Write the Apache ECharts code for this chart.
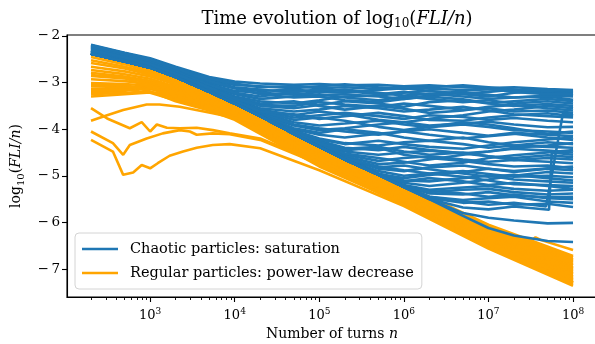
<!DOCTYPE html>
<html>
<head>
<meta charset="utf-8">
<title>FLI evolution</title>
<script src="https://cdn.jsdelivr.net/npm/echarts@6.0.0/dist/echarts.min.js"></script>
<style>
  html, body { margin: 0; padding: 0; background: #fff; }
  #chart { width: 595px; height: 344px; }
</style>
</head>
<body>
<div id="chart"></div>
<script>
// ---- data: log10(FLI/n) ----

// regular particles (orange), main band
const regularTurns = [200, 500, 1e3, 2e3, 5e3, 1e4, 1e5, 1e6, 1e7, 1e8]
const regularRuns = [
  [-2.38, -2.55, -2.72, -2.92, -3.17, -3.40, -4.40, -5.20, -6.05, -6.72],
  [-2.45, -2.61, -2.76, -2.95, -3.20, -3.42, -4.42, -5.22, -6.08, -6.75],
  [-2.52, -2.66, -2.79, -2.98, -3.22, -3.45, -4.45, -5.25, -6.10, -6.79],
  [-2.58, -2.70, -2.83, -3.01, -3.25, -3.47, -4.47, -5.27, -6.13, -6.82],
  [-2.66, -2.76, -2.87, -3.04, -3.27, -3.50, -4.50, -5.30, -6.16, -6.85],
  [-3.21, -3.18, -3.05, -3.06, -3.30, -3.52, -4.52, -5.32, -6.18, -6.89],
  [-2.73, -2.82, -2.92, -3.09, -3.33, -3.54, -4.54, -5.34, -6.21, -6.92],
  [-2.79, -2.87, -2.96, -3.12, -3.35, -3.57, -4.57, -5.37, -6.24, -6.96],
  [-2.86, -2.91, -3.00, -3.15, -3.38, -3.59, -4.59, -5.39, -6.26, -6.99],
  [-2.93, -2.97, -3.03, -3.18, -3.40, -3.62, -4.62, -5.42, -6.29, -7.02],
  [-3.01, -3.03, -3.07, -3.21, -3.43, -3.64, -4.64, -5.44, -6.31, -7.06],
  [-3.07, -3.08, -3.11, -3.24, -3.45, -3.66, -4.66, -5.46, -6.34, -7.09],
  [-3.13, -3.12, -3.14, -3.27, -3.48, -3.69, -4.69, -5.49, -6.37, -7.12],
  [-3.30, -3.25, -3.21, -3.29, -3.51, -3.71, -4.71, -5.51, -6.39, -7.16],
  [-3.25, -3.22, -3.20, -3.32, -3.53, -3.74, -4.74, -5.54, -6.42, -7.19],
  [-2.84, -2.90, -3.11, -3.35, -3.56, -3.76, -4.76, -5.56, -6.45, -7.22],
  [-3.17, -3.15, -3.22, -3.38, -3.58, -3.78, -4.78, -5.58, -6.47, -7.25],
  [-3.04, -3.05, -3.19, -3.40, -3.60, -3.80, -4.80, -5.60, -6.49, -7.28]
]

// regular run that stays on top at the end (small bump near 3e7)
const regularTopTurns = [200, 500, 1e3, 2e3, 5e3, 1e4, 1e5, 1e6, 1e7, 2e7, 3.2e7, 3.6e7, 4.2e7, 1e8]
const regularTopRun = [-2.40, -2.57, -2.74, -2.93, -3.18, -3.41, -4.41, -5.21, -6.08, -6.28, -6.40, -6.32, -6.38, -6.59]

// regular runs starting low on the left
const regularLowTurns1 = [200, 310, 480, 910, 1290, 2240, 5500, 2e4, 1e5, 1e6, 1e7, 1e8]
const regularLowRun1 = [-3.82, -3.70, -3.59, -3.47, -3.47, -3.52, -3.66, -3.87, -4.65, -5.60, -6.50, -7.28]
const regularLowTurns2 = [200, 310, 575, 795, 1000, 1200, 1580, 2240, 3550, 5500, 8700, 2e4, 1e5, 1e6, 1e7, 1e8]
const regularLowRun2 = [-3.55, -3.77, -3.98, -3.85, -4.05, -3.90, -3.97, -3.98, -3.97, -4.02, -4.09, -4.20, -4.72, -5.62, -6.52, -7.30]
const regularLowTurns3 = [200, 363, 480, 575, 910, 1410, 2240, 2950, 3550, 5500, 8700, 2e4, 1e5, 1e6, 1e7, 1e8]
const regularLowRun3 = [-4.05, -4.30, -4.55, -4.34, -4.20, -4.09, -4.02, -4.05, -4.12, -4.09, -4.11, -4.23, -4.75, -5.63, -6.54, -7.32]
const regularLowTurns4 = [200, 363, 480, 630, 795, 1000, 1230, 1700, 2450, 3550, 5500, 8700, 2e4, 1e5, 1e6, 1e7, 1e8]
const regularLowRun4 = [-4.23, -4.48, -4.98, -4.93, -4.77, -4.84, -4.73, -4.57, -4.48, -4.40, -4.34, -4.32, -4.41, -4.88, -5.65, -6.56, -7.36]

// chaotic particles (blue)
const chaoticTurns = [200, 500, 1e3, 2e3, 5e3, 1e4, 2e4, 5e4, 1e5, 2e5, 5e5, 1e6, 2e6, 5e6, 1e7, 2e7, 5e7, 1e8]
const chaoticRuns = [
  [-2.19, -2.36, -2.48, -2.66, -2.88, -2.98, -3.02, -3.05, -3.03, -3.06, -3.05, -3.08, -3.06, -3.10, -3.12, -3.10, -3.14, -3.16],
  [-2.22, -2.38, -2.52, -2.70, -2.95, -3.05, -3.08, -3.12, -3.08, -3.04, -3.10, -3.14, -3.10, -3.06, -3.10, -3.15, -3.20, -3.20],
  [-2.24, -2.40, -2.54, -2.73, -3.00, -3.12, -3.18, -3.15, -3.20, -3.22, -3.16, -3.12, -3.18, -3.24, -3.20, -3.15, -3.22, -3.27],
  [-2.25, -2.42, -2.55, -2.75, -3.03, -3.18, -3.22, -3.26, -3.20, -3.15, -3.22, -3.28, -3.24, -3.30, -3.35, -3.32, -3.30, -3.37],
  [-2.27, -2.43, -2.57, -2.77, -3.06, -3.25, -3.35, -3.30, -3.25, -3.32, -3.38, -3.30, -3.35, -3.42, -3.38, -3.45, -3.40, -3.45],
  [-2.28, -2.44, -2.58, -2.79, -3.09, -3.30, -3.40, -3.45, -3.38, -3.30, -3.28, -3.22, -3.18, -3.25, -3.30, -3.22, -3.18, -3.22],
  [-2.30, -2.46, -2.60, -2.80, -3.12, -3.33, -3.48, -3.50, -3.42, -3.47, -3.52, -3.45, -3.50, -3.58, -3.55, -3.62, -3.60, -3.65],
  [-2.31, -2.47, -2.61, -2.82, -3.13, -3.36, -3.55, -3.62, -3.58, -3.50, -3.55, -3.62, -3.58, -3.52, -3.60, -3.68, -3.72, -3.75],
  [-2.32, -2.48, -2.62, -2.83, -3.14, -3.38, -3.60, -3.75, -3.70, -3.65, -3.72, -3.78, -3.70, -3.74, -3.80, -3.76, -3.82, -3.85],
  [-2.33, -2.49, -2.63, -2.84, -3.15, -3.40, -3.64, -3.85, -3.92, -3.88, -3.82, -3.90, -3.96, -3.90, -3.95, -4.02, -4.05, -4.08],
  [-2.34, -2.50, -2.64, -2.85, -3.16, -3.41, -3.67, -3.92, -4.02, -3.98, -3.90, -3.85, -3.78, -3.70, -3.62, -3.58, -3.50, -3.55],
  [-2.35, -2.51, -2.65, -2.85, -3.17, -3.42, -3.68, -4.00, -4.12, -4.18, -4.10, -4.05, -4.12, -4.20, -4.15, -4.10, -4.18, -4.23],
  [-2.36, -2.52, -2.66, -2.86, -3.18, -3.43, -3.69, -4.03, -4.20, -4.30, -4.35, -4.28, -4.25, -4.32, -4.40, -4.35, -4.38, -4.40],
  [-2.36, -2.53, -2.66, -2.87, -3.18, -3.43, -3.70, -4.04, -4.25, -4.40, -4.45, -4.38, -4.45, -4.52, -4.48, -4.42, -4.46, -4.50],
  [-2.37, -2.53, -2.67, -2.87, -3.19, -3.44, -3.70, -4.05, -4.28, -4.48, -4.55, -4.50, -4.46, -4.52, -4.58, -4.62, -4.56, -4.60],
  [-2.37, -2.54, -2.67, -2.87, -3.19, -3.44, -3.71, -4.06, -4.30, -4.55, -4.68, -4.62, -4.58, -4.65, -4.70, -4.66, -4.70, -4.73],
  [-2.38, -2.54, -2.67, -2.88, -3.19, -3.44, -3.71, -4.06, -4.31, -4.58, -4.75, -4.72, -4.65, -4.55, -4.48, -4.40, -4.35, -4.30],
  [-2.38, -2.55, -2.68, -2.88, -3.20, -3.45, -3.72, -4.10, -4.36, -4.60, -4.85, -4.90, -4.82, -4.78, -4.85, -4.92, -4.85, -4.88],
  [-2.36, -2.53, -2.67, -2.87, -3.19, -3.45, -3.72, -4.10, -4.38, -4.63, -4.90, -5.00, -4.95, -4.90, -4.96, -5.02, -5.00, -5.03],
  [-2.37, -2.54, -2.68, -2.88, -3.20, -3.45, -3.72, -4.10, -4.38, -4.65, -4.95, -5.10, -5.12, -5.05, -5.00, -5.08, -5.12, -5.15],
  [-2.38, -2.55, -2.68, -2.88, -3.20, -3.45, -3.72, -4.10, -4.38, -4.65, -4.97, -5.15, -5.22, -5.15, -5.08, -5.00, -4.92, -4.95],
  [-2.37, -2.54, -2.68, -2.88, -3.20, -3.45, -3.72, -4.10, -4.38, -4.65, -4.97, -5.20, -5.30, -5.25, -5.22, -5.28, -5.32, -5.30],
  [-2.38, -2.55, -2.68, -2.88, -3.20, -3.45, -3.72, -4.10, -4.38, -4.65, -4.98, -5.22, -5.38, -5.40, -5.35, -5.42, -5.46, -5.45],
  [-2.38, -2.55, -2.68, -2.88, -3.20, -3.45, -3.72, -4.10, -4.38, -4.65, -4.98, -5.23, -5.45, -5.52, -5.48, -5.45, -5.55, -5.58],
  [-2.38, -2.55, -2.68, -2.88, -3.20, -3.45, -3.72, -4.10, -4.38, -4.65, -4.98, -5.24, -5.48, -5.58, -5.55, -5.62, -5.60, -5.67],
  [-2.38, -2.55, -2.68, -2.88, -3.20, -3.45, -3.72, -4.10, -4.38, -4.65, -4.98, -5.24, -5.50, -5.80, -5.90, -5.96, -6.02, -6.01],
  [-2.38, -2.55, -2.68, -2.88, -3.20, -3.45, -3.72, -4.10, -4.38, -4.65, -4.98, -5.24, -5.50, -5.86, -6.12, -6.28, -6.40, -6.42],
  [-2.20, -2.37, -2.50, -2.68, -2.92, -3.02, -3.10, -3.08, -3.12, -3.10, -3.14, -3.10, -3.13, -3.16, -3.14, -3.18, -3.15, -3.18],
  [-2.23, -2.39, -2.53, -2.72, -2.98, -3.10, -3.15, -3.22, -3.28, -3.25, -3.30, -3.35, -3.28, -3.22, -3.26, -3.32, -3.28, -3.30],
  [-2.31, -2.47, -2.61, -2.82, -3.13, -3.37, -3.58, -3.70, -3.62, -3.68, -3.80, -3.85, -3.92, -3.88, -3.84, -3.90, -3.96, -3.95],
  [-2.37, -2.53, -2.67, -2.87, -3.19, -3.44, -3.70, -4.05, -4.27, -4.42, -4.38, -4.48, -4.55, -4.50, -4.58, -4.66, -4.62, -4.65],
  [-2.38, -2.54, -2.68, -2.88, -3.20, -3.45, -3.72, -4.10, -4.36, -4.63, -4.82, -4.78, -4.86, -4.95, -5.02, -4.98, -5.05, -5.10],
  [-2.38, -2.55, -2.68, -2.88, -3.20, -3.45, -3.72, -4.10, -4.38, -4.65, -4.96, -5.05, -4.98, -4.92, -4.85, -4.90, -4.84, -4.80],
  [-2.38, -2.55, -2.68, -2.88, -3.20, -3.45, -3.72, -4.10, -4.38, -4.65, -4.98, -5.24, -5.32, -5.38, -5.45, -5.40, -5.48, -5.50],
  [-2.34, -2.50, -2.64, -2.85, -3.16, -3.41, -3.66, -3.90, -3.98, -4.05, -4.12, -4.05, -4.00, -4.08, -4.14, -4.08, -4.12, -4.15],
  [-2.21, -2.37, -2.51, -2.69, -2.96, -3.12, -3.25, -3.32, -3.30, -3.38, -3.42, -3.35, -3.30, -3.36, -3.44, -3.40, -3.35, -3.40],
  [-2.26, -2.42, -2.56, -2.76, -3.05, -3.22, -3.30, -3.20, -3.15, -3.18, -3.25, -3.20, -3.26, -3.18, -3.14, -3.20, -3.25, -3.24],
  [-2.29, -2.45, -2.59, -2.80, -3.10, -3.32, -3.45, -3.40, -3.50, -3.58, -3.50, -3.56, -3.65, -3.60, -3.52, -3.48, -3.55, -3.60],
  [-2.32, -2.48, -2.62, -2.83, -3.14, -3.38, -3.62, -3.80, -3.75, -3.82, -3.95, -4.02, -3.95, -3.85, -3.90, -3.98, -4.10, -4.05],
  [-2.35, -2.51, -2.65, -2.86, -3.17, -3.42, -3.68, -3.98, -4.08, -4.00, -4.08, -4.18, -4.25, -4.18, -4.28, -4.35, -4.28, -4.32],
  [-2.36, -2.52, -2.66, -2.87, -3.18, -3.43, -3.70, -4.04, -4.22, -4.32, -4.25, -4.32, -4.38, -4.42, -4.35, -4.28, -4.22, -4.18],
  [-2.37, -2.54, -2.67, -2.88, -3.19, -3.44, -3.71, -4.07, -4.32, -4.52, -4.62, -4.70, -4.78, -4.72, -4.62, -4.56, -4.50, -4.45],
  [-2.38, -2.54, -2.68, -2.88, -3.20, -3.45, -3.72, -4.10, -4.37, -4.62, -4.80, -4.88, -4.95, -5.02, -5.10, -5.18, -5.20, -5.22],
  [-2.38, -2.55, -2.68, -2.88, -3.20, -3.45, -3.72, -4.10, -4.38, -4.65, -4.96, -5.12, -5.05, -5.12, -5.20, -5.15, -5.22, -5.28],
  [-2.38, -2.55, -2.68, -2.88, -3.20, -3.45, -3.72, -4.10, -4.38, -4.65, -4.98, -5.22, -5.35, -5.30, -5.28, -5.35, -5.40, -5.38],
  [-2.33, -2.49, -2.63, -2.84, -3.15, -3.39, -3.62, -3.68, -3.78, -3.72, -3.65, -3.72, -3.80, -3.82, -3.75, -3.70, -3.66, -3.72],
  [-2.30, -2.46, -2.60, -2.81, -3.11, -3.34, -3.50, -3.55, -3.48, -3.40, -3.45, -3.52, -3.42, -3.38, -3.45, -3.50, -3.46, -3.50],
  [-2.37, -2.53, -2.67, -2.87, -3.19, -3.44, -3.71, -4.06, -4.30, -4.45, -4.40, -4.55, -4.62, -4.68, -4.75, -4.80, -4.78, -4.84]
]

// chaotic runs that jump up late
const chaoticJumpTurns1 = [200, 500, 1e3, 2e3, 5e3, 1e4, 2e4, 5e4, 1e5, 2e5, 5e5, 1e6, 2e6, 5e6, 1e7, 2e7, 4.8e7, 7.6e7, 1e8]
const chaoticJumpRun1 = [-2.38, -2.55, -2.68, -2.88, -3.20, -3.45, -3.72, -4.10, -4.38, -4.65, -4.98, -5.24, -5.45, -5.55, -5.62, -5.58, -5.66, -3.66, -3.70]
const chaoticJumpTurns2 = [200, 500, 1e3, 2e3, 5e3, 1e4, 2e4, 5e4, 1e5, 2e5, 5e5, 1e6, 2e6, 5e6, 1e7, 2e7, 5.2e7, 5.6e7, 1e8]
const chaoticJumpRun2 = [-2.38, -2.55, -2.68, -2.88, -3.20, -3.45, -3.72, -4.10, -4.38, -4.65, -4.98, -5.24, -5.50, -5.68, -5.72, -5.66, -5.73, -4.50, -4.55]

// axis ticks
const xMajorTicks = [1e3, 1e4, 1e5, 1e6, 1e7, 1e8]
const yTicks = [-7, -6, -5, -4, -3, -2]

const chaoticName = 'Chaotic particles: saturation'
const regularName = 'Regular particles: power-law decrease'
const blue = '#1f77b4'
const orange = '#ffa500'
const serif = 'DejaVu Serif'

// minor ticks of a log axis: 2..9 in every decade
let xMinorTicks = []
for (let d = 2; d <= 7; d++) {
  for (let k = 2; k <= 9; k++) xMinorTicks.push(k * Math.pow(10, d))
}

function pairs(turns, run) {
  return turns.map((n, i) => [n, run[i]])
}

function runSeries(name, color, data) {
  return {
    type: 'line',
    name: name,
    data: data,
    showSymbol: false,
    symbol: 'none',
    silent: true,
    lineStyle: { color: color, width: 2.6 },
    itemStyle: { color: color }
  }
}

let series = []
// regular first, chaotic drawn on top
regularRuns.forEach(run => series.push(runSeries(regularName, orange, pairs(regularTurns, run))))
series.push(runSeries(regularName, orange, pairs(regularTopTurns, regularTopRun)))
series.push(runSeries(regularName, orange, pairs(regularLowTurns1, regularLowRun1)))
series.push(runSeries(regularName, orange, pairs(regularLowTurns2, regularLowRun2)))
series.push(runSeries(regularName, orange, pairs(regularLowTurns3, regularLowRun3)))
series.push(runSeries(regularName, orange, pairs(regularLowTurns4, regularLowRun4)))
chaoticRuns.forEach(run => series.push(runSeries(chaoticName, blue, pairs(chaoticTurns, run))))
series.push(runSeries(chaoticName, blue, pairs(chaoticJumpTurns1, chaoticJumpRun1)))
series.push(runSeries(chaoticName, blue, pairs(chaoticJumpTurns2, chaoticJumpRun2)))

const tickLine = { color: '#000', width: 1.1 }
const textRich = {
  t: { fontFamily: serif, fontSize: 14, color: '#000', lineHeight: 20 },
  i: { fontFamily: serif, fontSize: 14, color: '#000', lineHeight: 20, fontStyle: 'italic' },
  s: { fontFamily: serif, fontSize: 10, color: '#000', lineHeight: 10, verticalAlign: 'bottom' }
}

let myChart = echarts.init(document.getElementById('chart'), null, { renderer: 'canvas' })
let options = {
  animation: false,
  backgroundColor: '#fff',
  title: {
    text: '{t|Time evolution of log}{s|10}{t|(}{i|FLI/n}{t|)}',
    left: 332,
    textAlign: 'center',
    top: 3,
    textStyle: {
      fontWeight: 'normal',
      rich: {
        t: { fontFamily: serif, fontSize: 18, fontWeight: 'normal', color: '#000', lineHeight: 22 },
        i: { fontFamily: serif, fontSize: 18, fontWeight: 'normal', color: '#000', lineHeight: 22, fontStyle: 'italic' },
        s: { fontFamily: serif, fontSize: 12, fontWeight: 'normal', color: '#000', lineHeight: 11, verticalAlign: 'bottom' }
      }
    }
  },
  legend: {
    data: [chaoticName, regularName],
    orient: 'vertical',
    left: 75,
    top: 233,
    icon: 'rect',
    itemWidth: 36,
    itemHeight: 2.6,
    itemGap: 6,
    padding: [7, 8, 7, 7],
    backgroundColor: 'rgba(255,255,255,0.8)',
    borderColor: '#d4d4d4',
    borderWidth: 1,
    borderRadius: 4,
    selectedMode: false,
    textStyle: { fontFamily: serif, fontSize: 14.5, color: '#000', padding: [0, 0, 0, 7], lineHeight: 18 }
  },
  grid: {
    left: 67,
    right: -2,
    top: 35,
    bottom: 47,
    show: true,
    borderColor: '#000',
    borderWidth: 1.1,
    containLabel: false,
    outerBoundsMode: 'none'
  },
  xAxis: [
    {
      type: 'log',
      logBase: 10,
      min: 104,
      max: 1.92e8,
      axisLine: { show: true, onZero: false, lineStyle: tickLine },
      axisTick: { show: true, customValues: xMajorTicks, length: 5, lineStyle: tickLine },
      axisLabel: {
        customValues: xMajorTicks,
        margin: 10,
        formatter: v => '{b|10}{p|' + Math.round(Math.log10(v)) + '}',
        rich: {
          b: { fontFamily: serif, fontSize: 13, color: '#000', lineHeight: 17 },
          p: { fontFamily: serif, fontSize: 9, color: '#000', lineHeight: 8, verticalAlign: 'top' }
        }
      },
      splitLine: { show: false },
      name: '{t|Number of turns }{i|n}',
      nameLocation: 'middle',
      nameGap: 26,
      nameTextStyle: { rich: textRich }
    },
    {
      // minor ticks only
      type: 'log',
      logBase: 10,
      min: 104,
      max: 1.92e8,
      gridIndex: 0,
      position: 'bottom',
      axisLine: { show: false, onZero: false },
      axisTick: { show: true, customValues: xMinorTicks, length: 3, lineStyle: { color: '#000', width: 0.9 } },
      axisLabel: { show: false },
      splitLine: { show: false }
    }
  ],
  yAxis: {
    type: 'value',
    min: -7.6,
    max: -1.98,
    axisLine: { show: true, onZero: false, lineStyle: tickLine },
    axisTick: { show: true, customValues: yTicks, length: 5, lineStyle: tickLine },
    axisLabel: {
      customValues: yTicks,
      margin: 7,
      fontFamily: serif,
      fontSize: 13.5,
      color: '#000',
      formatter: v => '\u2212\u2009' + Math.abs(v)
    },
    splitLine: { show: false },
    name: '{t|log}{s|10}{t|(}{i|FLI/n}{t|)}',
    nameLocation: 'middle',
    nameRotate: 90,
    nameGap: 40,
    nameTextStyle: { rich: textRich }
  },
  series: series
}
myChart.setOption(options)
</script>
</body>
</html>
